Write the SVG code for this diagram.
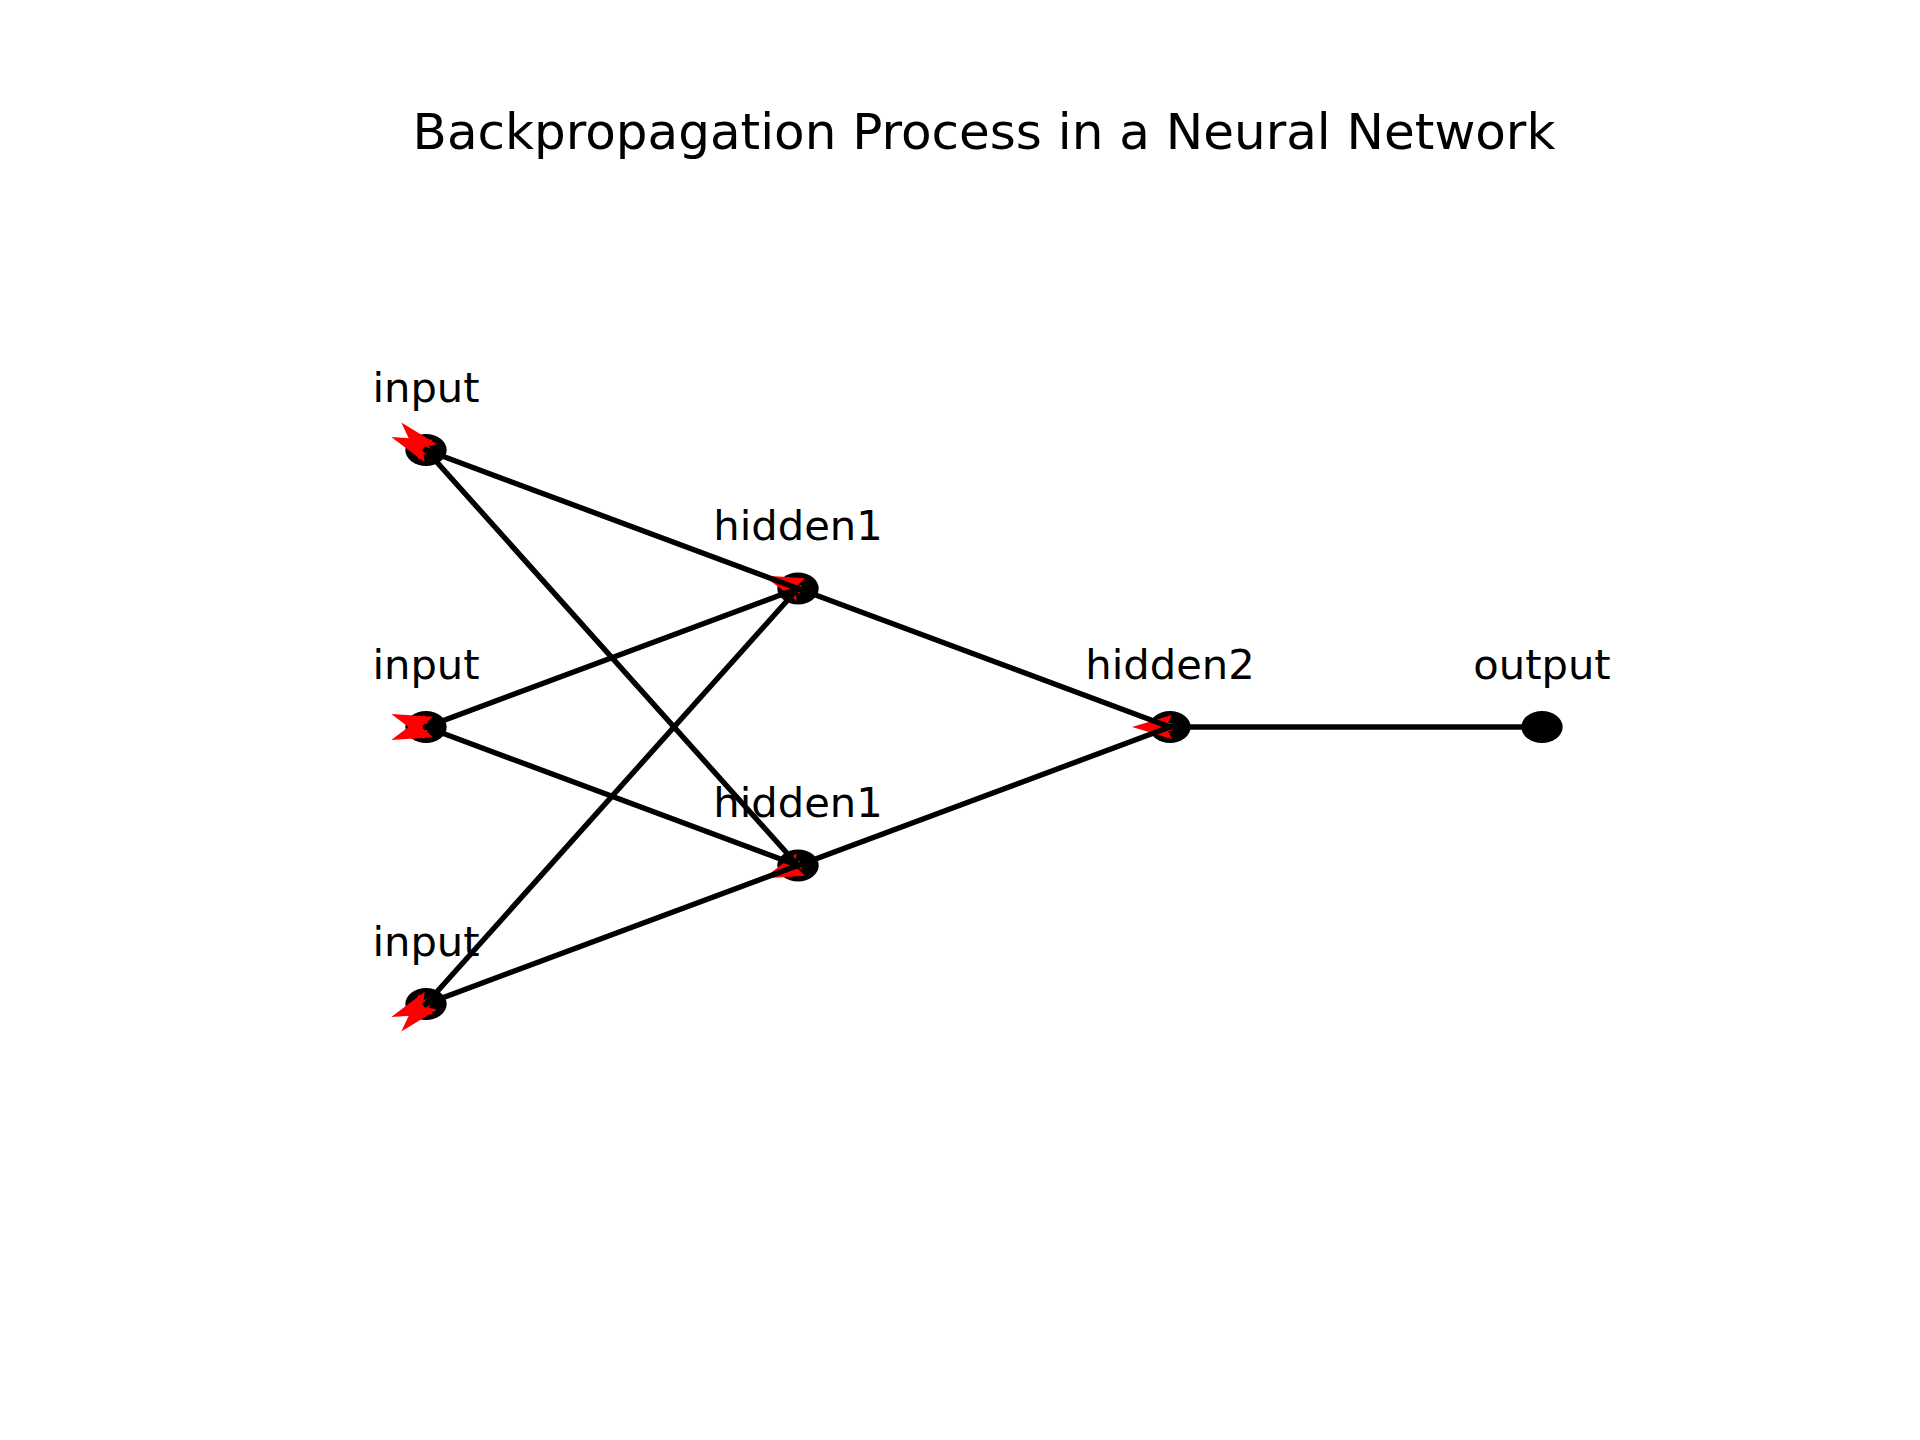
<svg xmlns="http://www.w3.org/2000/svg" width="1920" height="1440" viewBox="0 0 1920 1440">
<style>
.bg{fill:#ffffff}
.node{fill:#000000}
.lbl{font-family:"DejaVu Sans",sans-serif;font-size:41.67px;fill:#000000;text-anchor:middle}
.title{font-family:"DejaVu Sans",sans-serif;font-size:50px;fill:#000000;text-anchor:middle}
.edge{stroke:#000000;stroke-width:5.4;fill:none;stroke-linecap:square}
.grad{fill:#ff0000;stroke:none}
</style>
<rect class="bg" x="0" y="0" width="1920" height="1440"/>
<text class="title" x="984" y="149">Backpropagation Process in a Neural Network</text>
<g id="nodes">
<g id="input1"><ellipse class="node" cx="426" cy="450" rx="20.7" ry="16"/><text class="lbl" x="426" y="401.5">input</text></g>
<g id="input2"><ellipse class="node" cx="426" cy="727" rx="20.7" ry="16"/><text class="lbl" x="426" y="678.5">input</text></g>
<g id="input3"><ellipse class="node" cx="426" cy="1004" rx="20.7" ry="16"/><text class="lbl" x="426" y="955.5">input</text></g>
<g id="hidden1a"><ellipse class="node" cx="798" cy="588.5" rx="20.7" ry="16"/><text class="lbl" x="798" y="540">hidden1</text></g>
<g id="hidden1b"><ellipse class="node" cx="798" cy="865.5" rx="20.7" ry="16"/><text class="lbl" x="798" y="817">hidden1</text></g>
<g id="hidden2"><ellipse class="node" cx="1170" cy="727" rx="20.7" ry="16"/><text class="lbl" x="1170" y="678.5">hidden2</text></g>
<g id="output"><ellipse class="node" cx="1542" cy="727" rx="20.7" ry="16"/><text class="lbl" x="1542" y="678.5">output</text></g>
</g>
<g id="gradients">
<polygon class="grad" points="430.21,447.30 426.46,445.91 433.00,439.80 391.32,437.09 424.62,462.30 423.67,453.40 427.41,454.80"/>
<polygon class="grad" points="430.98,449.57 428.31,446.59 436.94,444.24 401.32,422.44 419.06,460.24 422.35,451.93 425.02,454.91"/>
<polygon class="grad" points="427.41,722.20 423.67,723.60 424.62,714.70 391.32,739.91 433.00,737.20 426.46,731.09 430.21,729.70"/>
<polygon class="grad" points="430.21,724.30 426.46,722.91 433.00,716.80 391.32,714.09 424.62,739.30 423.67,730.40 427.41,731.80"/>
<polygon class="grad" points="425.02,999.09 422.35,1002.07 419.06,993.76 401.32,1031.56 436.94,1009.76 428.31,1007.41 430.98,1004.43"/>
<polygon class="grad" points="427.41,999.20 423.67,1000.60 424.62,991.70 391.32,1016.91 433.00,1014.20 426.46,1008.09 430.21,1006.70"/>
<polygon class="grad" points="802.21,585.80 798.46,584.41 805.00,578.30 763.32,575.59 796.62,600.80 795.67,591.90 799.41,593.30"/>
<polygon class="grad" points="799.41,860.70 795.67,862.10 796.62,853.20 763.32,878.41 805.00,875.70 798.46,869.59 802.21,868.20"/>
<polygon class="grad" points="1172,723 1168,723 1172,715 1132,727 1172,739 1168,731 1172,731"/>
</g>
<g id="connectors">
<line class="edge" x1="426" y1="450" x2="798" y2="588.5"/>
<line class="edge" x1="426" y1="450" x2="798" y2="865.5"/>
<line class="edge" x1="426" y1="727" x2="798" y2="588.5"/>
<line class="edge" x1="426" y1="727" x2="798" y2="865.5"/>
<line class="edge" x1="426" y1="1004" x2="798" y2="588.5"/>
<line class="edge" x1="426" y1="1004" x2="798" y2="865.5"/>
<line class="edge" x1="798" y1="588.5" x2="1170" y2="727"/>
<line class="edge" x1="798" y1="865.5" x2="1170" y2="727"/>
<line class="edge" x1="1170" y1="727" x2="1542" y2="727"/>
</g>
</svg>
